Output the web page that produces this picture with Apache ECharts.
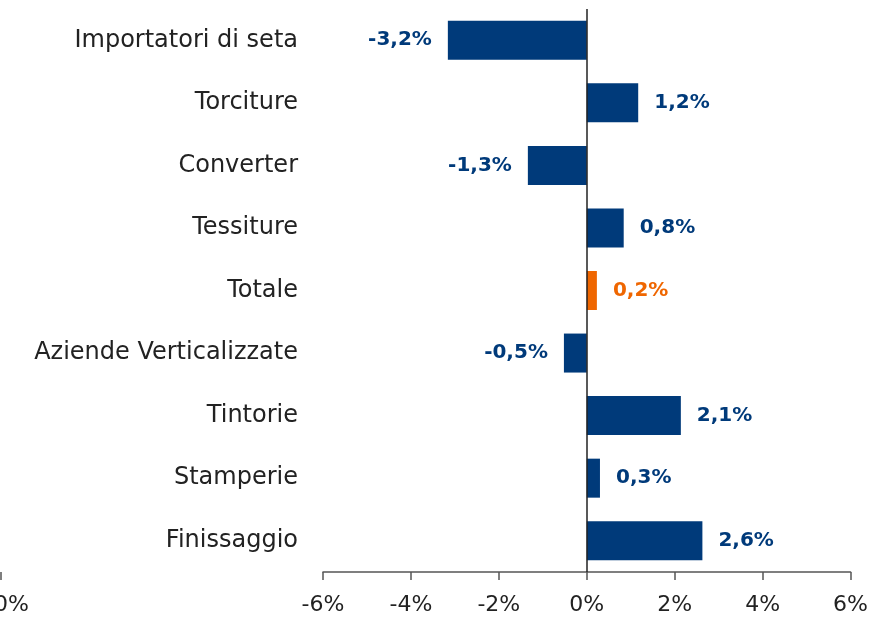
<!DOCTYPE html>
<html>
<head>
<meta charset="utf-8">
<script src="https://cdn.jsdelivr.net/npm/echarts@6/dist/echarts.min.js"></script>
<style>
  html, body { margin: 0; padding: 0; background: #fff; }
  #ch { width: 871px; height: 618px; }
</style>
</head>
<body>
<div id="ch"></div>
<script>
var categories = ['Importatori di seta', 'Torciture', 'Converter', 'Tessiture', 'Totale',
                  'Aziende Verticalizzate', 'Tintorie', 'Stamperie', 'Finissaggio'];
var values = [-3.16, 1.17, -1.34, 0.84, 0.23, -0.52, 2.14, 0.30, 2.63];
var highlight = 'Totale';

var navy = '#003a7a';
var orange = '#ef6600';
var font = "'DejaVu Sans', sans-serif";

var chart = echarts.init(document.getElementById('ch'));

var data = values.map(function (v, i) {
    var c = categories[i] === highlight ? orange : navy;
    return {
        value: v,
        itemStyle: { color: c },
        label: { position: v < 0 ? 'left' : 'right', color: c }
    };
});

var option = {
    animation: false,
    grid: { left: 323, right: 20, top: 9, bottom: 46 },
    xAxis: {
        type: 'value',
        min: -6,
        max: 6,
        interval: 2,
        axisLine: { show: true, lineStyle: { color: '#555', width: 1.5 } },
        axisTick: { show: true, length: 8, lineStyle: { color: '#555', width: 1.5 } },
        axisLabel: {
            formatter: '{value}%',
            color: '#222',
            fontSize: 22,
            fontFamily: font,
            margin: 22
        },
        splitLine: { show: false }
    },
    yAxis: {
        type: 'category',
        inverse: true,
        data: categories,
        axisLine: { show: false },
        axisTick: { show: false },
        axisLabel: {
            color: '#222',
            fontSize: 24,
            fontFamily: font,
            margin: 25
        }
    },
    series: [{
        type: 'bar',
        data: data,
        barWidth: 39,
        label: {
            show: true,
            distance: 16,
            fontSize: 20,
            fontWeight: 'bold',
            fontFamily: font,
            formatter: function (p) {
                return p.value.toFixed(1).replace('.', ',') + '%';
            }
        },
        markLine: {
            silent: true,
            symbol: 'none',
            label: { show: false },
            lineStyle: { color: '#222', type: 'solid', width: 1.5 },
            data: [{ xAxis: 0 }]
        }
    }],
    graphic: [
        {
            type: 'line',
            shape: { x1: 1, y1: 572, x2: 1, y2: 580 },
            style: { stroke: '#555', lineWidth: 1.5 }
        },
        {
            type: 'text',
            left: -6,
            top: 594,
            style: { text: '0%', fill: '#222', fontSize: 22, fontFamily: font }
        }
    ]
};

chart.setOption(option);
</script>
</body>
</html>
